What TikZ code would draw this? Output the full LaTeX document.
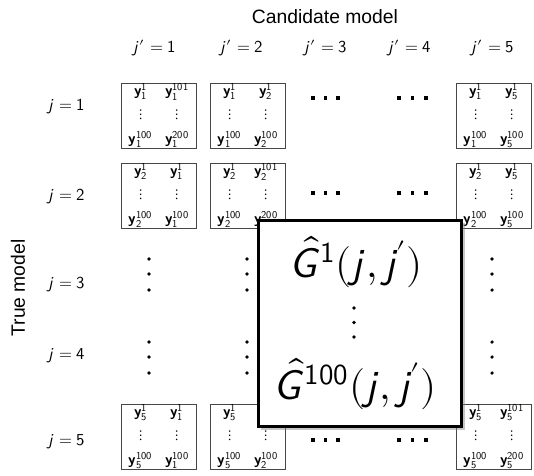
\documentclass[tikz,border=0pt]{standalone}
\usepackage{fontspec}
\usepackage{unicode-math}
\setmathfont{Latin Modern Math}
\usetikzlibrary{positioning,shadows}
\newfontfamily\labelfont{Liberation Sans}
\definecolor{cellgray}{RGB}{70,70,70}
\newcommand{\sj}{\mathsfit{j}}
\newcommand{\sn}[1]{\mathsfup{#1}}
\newcommand{\by}{\mathbfsfup{y}}
\newcommand{\ycell}[4]{$\begin{array}{@{}c@{\hspace{7pt}}c@{}}\by_{\sn{#1}}^{\sn{1}} & \by_{\sn{#2}}^{\sn{#3}}\\[3pt] \vdots & \vdots\\[4pt] \by_{\sn{#1}}^{\sn{100}} & \by_{\sn{#2}}^{\sn{#4}}\end{array}$}
\tikzset{
  axislabel/.style={font=\labelfont\fontsize{11}{13}\selectfont},
  idxlabel/.style={font=\fontsize{9.5}{11}\selectfont},
  cell/.style={rectangle, draw=cellgray, line width=0.6pt, fill=white, minimum width=1.5cm, minimum height=1.3cm, inner sep=0pt, font=\fontsize{8.5}{10}\selectfont},
  gbox/.style={rectangle, draw=black, line width=1.7pt, fill=white, minimum width=4.08cm, minimum height=4.14cm, drop shadow={shadow xshift=0.6mm, shadow yshift=-0.6mm, opacity=0.45}},
  gtext/.style={font=\fontsize{23.5}{28}\selectfont},
  hsq/.style={rectangle, fill=black, inner sep=0pt, minimum size=2.1pt}
}

\begin{document}
\begin{tikzpicture}[x=0.02cm, y=-0.02cm]
\useasboundingbox (0,0) rectangle (534,476);
% axis labels
\node[axislabel] (cand) at (325,17) {Candidate model};
\node[axislabel, rotate=90] (true) at (18,288) {True model};
% column and row indices
\node[idxlabel] (jp1) at (155,48) {$\sj'=\sn{1}$};
\node[idxlabel] (jp2) at (242,48) {$\sj'=\sn{2}$};
\node[idxlabel] (jp3) at (326,48) {$\sj'=\sn{3}$};
\node[idxlabel] (jp4) at (410,48) {$\sj'=\sn{4}$};
\node[idxlabel] (jp5) at (493,48) {$\sj'=\sn{5}$};
\node[idxlabel] (j1) at (67,107) {$\sj=\sn{1}$};
\node[idxlabel] (j2) at (67,197) {$\sj=\sn{2}$};
\node[idxlabel] (j3) at (67,285) {$\sj=\sn{3}$};
\node[idxlabel] (j4) at (67,356) {$\sj=\sn{4}$};
\node[idxlabel] (j5) at (67,442) {$\sj=\sn{5}$};
% sample cells
\node[cell] (c11) at (159,116) {\ycell{1}{1}{101}{200}};
\node[cell] (c12) at (248,116) {\ycell{1}{2}{1}{100}};
\node[cell] (c15) at (494,116) {\ycell{1}{5}{1}{100}};
\node[cell] (c21) at (159,196) {\ycell{2}{1}{1}{100}};
\node[cell] (c22) at (248,196) {\ycell{2}{2}{101}{200}};
\node[cell] (c25) at (494,196) {\ycell{2}{5}{1}{100}};
\node[cell] (c51) at (159,437) {\ycell{5}{1}{1}{100}};
\node[cell] (c52) at (248,437) {\ycell{5}{2}{1}{100}};
\node[cell] (c55) at (494,437) {\ycell{5}{5}{101}{200}};
% dots
\foreach \x in {313,325.5,338,399,412.5,426}
  \foreach \y in {98,193,440}
    \node[hsq] at (\x,\y) {};
\foreach \x in {149,247,492}
  \foreach \y in {259,274,290,342,357,373}
    \fill (\x,\y) circle (1pt);
% estimate box
\node[gbox] (gb) at (360,323.5) {};
\node[gtext] (g1) at (356,262) {$\hat{\mathsfit{G}}^{\sn{1}}(\sj,\sj\mkern-1mu')$};
\node[gtext] (g100) at (355,384) {$\hat{\mathsfit{G}}^{\sn{100}}(\sj,\sj\mkern-1mu')$};
\foreach \y in {308,322.5,337}
  \fill (354,\y) circle (1pt);
\end{tikzpicture}
\end{document}
